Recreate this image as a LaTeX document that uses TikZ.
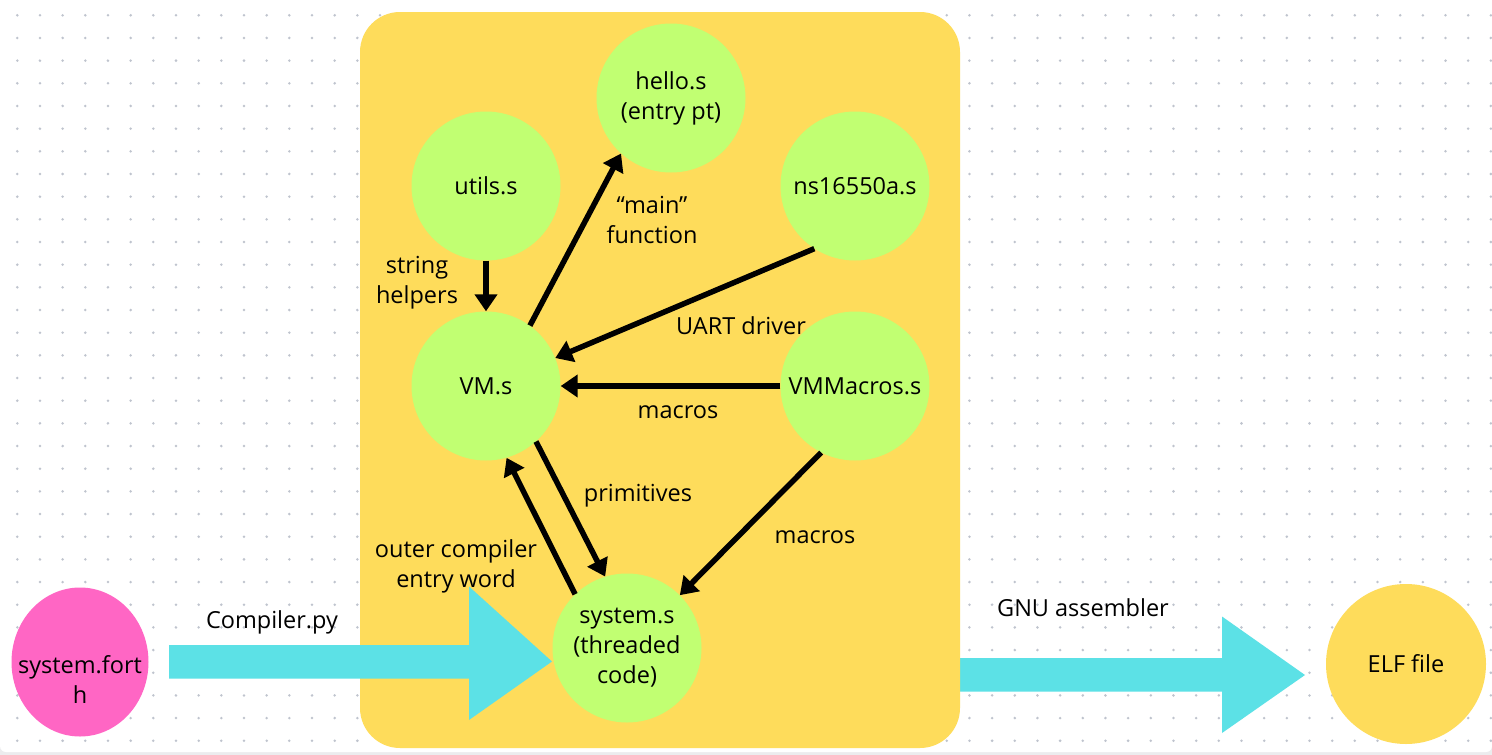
\documentclass[tikz,border=0pt]{standalone}
\usepackage{fontspec}
\setmainfont{Open Sans}
\usetikzlibrary{arrows.meta}
\usetikzlibrary{shapes.geometric}
\usetikzlibrary{positioning}
\definecolor{panelyellow}{HTML}{FEDC5B}
\definecolor{filegreen}{HTML}{C1FF72}
\definecolor{sourcepink}{HTML}{FF66C4}
\definecolor{pipecyan}{HTML}{5CE1E6}
\definecolor{dotgray}{HTML}{BFC4CE}
\definecolor{edgegray}{HTML}{ECECEE}
\newcommand\diagfont{\fontsize{23.5}{30}\selectfont}
\tikzset{%
 >={Triangle[length=17pt,width=22pt]}
}

\begin{document}
\begin{tikzpicture}[x=1pt, y=-1pt,
  file/.style={circle, fill=filegreen, minimum size=149pt, inner sep=0pt, align=center, font=\diagfont},
  source/.style={ellipse, fill=sourcepink, minimum width=137pt, minimum height=149pt, inner sep=0pt},
  output/.style={circle, fill=panelyellow, minimum size=160pt, inner sep=0pt, font=\diagfont},
  dep/.style={->, line width=5.5pt},
  note/.style={align=center, font=\diagfont, inner sep=0pt},
  pipe/.style={fill=pipecyan}]
 \useasboundingbox (0,0) rectangle (1492,755);
 \fill [edgegray] (0,0) rectangle (1492,755);
 \fill [white, rounded corners=6] (0,-20) rectangle (1492,752);
 \foreach \i in {0,...,65}
  \foreach \j in {0,...,32}
   \fill [dotgray] ({17.3+22.67*\i},{15.3+22.67*\j}) circle [radius=1.4pt];

 % GNU assembler pipe sits under the panel
 \coordinate (atail) at (958,674.5);
 \coordinate (atip) at (1305,675);
 \fill [pipe] (atail) ++(0,-16.5) -- ++(264,0) -- ++(0,-41.5) -- (atip) -- ++(-83,58) -- ++(0,-41.5) -- ++(-264,0) -- cycle;

 \fill [panelyellow, rounded corners=40] (360,12) rectangle (960,748);

 \node [file] (hello) at (671,98) {hello.s\\(entry pt)};
 \node [file] (utils) at (486,186) {utils.s};
 \node [file] (uart) at (855,186) {ns16550a.s};
 \node [file] (vm) at (486,386) {VM.s};
 \node [file] (vmmacros) at (855,386) {VMMacros.s};
 \node [file] (system) at (627,648) {system.s\\(threaded\\code)};
 \node [source] (forth) at (80,662) {};
 \node [note] (forthtxt) at (80,680) {system.fort\\h};
 \node [output] (elf) at (1406,664) {ELF file};

 \draw [dep] (utils) -- (vm);
 \draw [dep] (vm.54) -- (hello.228);
 \draw [dep] (uart.237) -- (vm.22);
 \draw [dep] (vmmacros) -- (vm);
 \draw [dep] (vm.312) -- (system.107);
 \draw [dep] (system.134) -- (vm.286);
 \draw [dep] (vmmacros.243) -- (system.45);

 \node [note] (helperslbl) at (417,283) {string\\helpers};
 \node [note] (mainlbl) at (652,220) {“main”\\function};
 \node [note] (uartlbl) at (741,326) {UART driver};
 \node [note] (macroslbl) at (678,412) {macros};
 \node [note] (primlbl) at (638,496) {primitives};
 \node [note] (outerlbl) at (456,566) {outer compiler\\entry word};
 \node [note] (macroslbl2) at (815,537) {macros};

 % Compiler.py pipe runs over the panel
 \coordinate (ctail) at (169,661.5);
 \coordinate (ctip) at (552,661.5);
 \fill [pipe] (ctail) ++(0,-16.5) -- ++(300,0) -- ++(0,-58.5) -- (ctip) -- ++(-83,58.5) -- ++(0,-41.5) -- ++(-300,0) -- cycle;
 \node [note] (compilerlbl) at (272,622) {Compiler.py};
 \node [note] (gaslbl) at (1083,608) {GNU assembler};
\end{tikzpicture}
\end{document}
